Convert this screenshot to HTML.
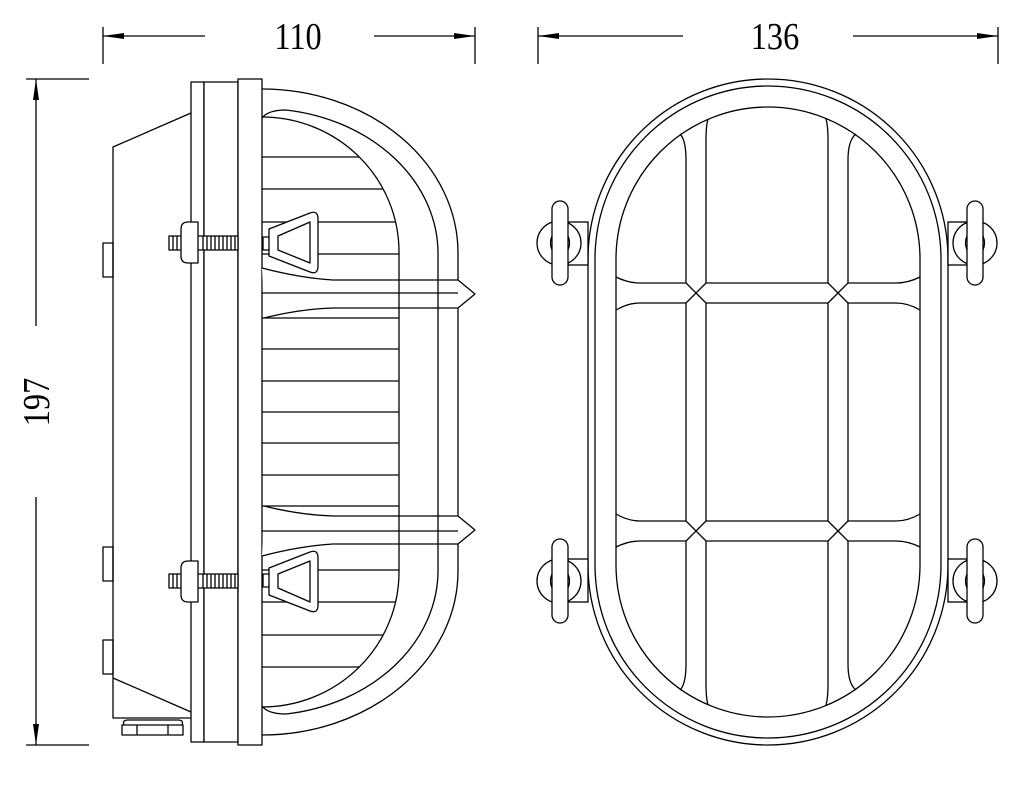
<!DOCTYPE html>
<html><head><meta charset="utf-8"><style>
html,body{margin:0;padding:0;background:#fff;}
svg{display:block;}
text{font-family:"Liberation Serif",serif;font-size:34px;fill:#000;}
</style></head><body>
<svg width="1032" height="785" viewBox="0 0 1032 785" xmlns="http://www.w3.org/2000/svg">
<g fill="none" stroke="#000" stroke-width="1.3">
<line x1="103" y1="27" x2="103" y2="64"/><line x1="475" y1="27" x2="475" y2="64"/>
<line x1="103" y1="36" x2="205" y2="36"/><line x1="374" y1="36" x2="475" y2="36"/>
<line x1="538" y1="27" x2="538" y2="64"/><line x1="998" y1="27" x2="998" y2="64"/>
<line x1="538" y1="36" x2="683" y2="36"/><line x1="853" y1="36" x2="998" y2="36"/>
<line x1="26" y1="79" x2="89" y2="79"/><line x1="26" y1="745" x2="89" y2="745"/>
<line x1="36" y1="79" x2="36" y2="326"/><line x1="36" y1="497" x2="36" y2="745"/>
</g>
<g fill="#000">
<polygon points="103,36 124,33 124,39"/><polygon points="475,36 454,33 454,39"/>
<polygon points="538,36 559,33 559,39"/><polygon points="998,36 977,33 977,39"/>
<polygon points="36,79 33,100 39,100"/><polygon points="36,745 33,724 39,724"/>
</g>
<text transform="translate(298,49) scale(0.95,1.12)" text-anchor="middle">110</text>
<text transform="translate(775,49) scale(0.95,1.12)" text-anchor="middle">136</text>
<text transform="translate(49,402) rotate(-90) scale(0.95,1.12)" text-anchor="middle">197</text>

<g fill="none" stroke="#000" stroke-width="1.3" stroke-linejoin="round">
<path d="M191,113 L113,147 L113,718 L191,718 M113,678 L191,712"/>
<rect x="103" y="243" width="10" height="34"/>
<rect x="103" y="547" width="10" height="34"/>
<rect x="103" y="640" width="10" height="34"/>
<path d="M124,725 Q122,720 128,720 L178,720 Q184,720 182,725"/>
<rect x="122" y="725" width="61" height="10"/><line x1="137" y1="725" x2="137" y2="735"/><line x1="168" y1="725" x2="168" y2="735"/>
<rect x="191" y="82" width="13" height="660" fill="#fff"/>
<rect x="204" y="82" width="34" height="660" fill="#fff"/>
<rect x="238" y="79" width="24" height="666" fill="#fff"/>
<line x1="399" y1="252" x2="399" y2="572"/>
<line x1="438" y1="255" x2="438" y2="569"/>
<path d="M262,89 A196,164 0 0 1 458,253 L458,571 A196,164 0 0 1 262,735"/>
<g id="half">
<path d="M262,117 A137,135 0 0 1 399,252"/>
<path d="M262,118 Q268,110 286,110 A176,145 0 0 1 438,255"/>
<line x1="262" y1="157" x2="359" y2="157"/>
<line x1="262" y1="189" x2="383" y2="189"/>
<line x1="262" y1="222" x2="396" y2="222"/>
<line x1="262" y1="254" x2="399" y2="254"/>
<line x1="262" y1="318" x2="399" y2="318"/>
<line x1="262" y1="349" x2="399" y2="349"/>
<line x1="262" y1="381" x2="399" y2="381"/>
<path d="M262,268 Q300,278 333,280 L458,280 L475,294 L458,308 L333,308 Q300,309 264,318" fill="#fff"/>
<line x1="262" y1="293" x2="458" y2="293"/>
<line x1="399" y1="280" x2="399" y2="308"/><line x1="438" y1="280" x2="438" y2="308"/>
<rect x="169" y="236" width="69" height="14" fill="#fff"/>
<path d="M173,236v14M177,236v14M203,236v14M207,236v14M211,236v14M215,236v14M219,236v14M223,236v14M227,236v14M231,236v14M235,236v14"/>
<path d="M198,222 L188,222 Q181,222 181,229 L181,256 Q181,263 188,263 L198,263 Z" fill="#fff"/>
<rect x="263" y="237" width="15" height="13" fill="#fff"/>
<path d="M269,229 L310,213 Q318,210 318,219 L318,266 Q318,275 310,272 L269,256 Z" fill="#fff"/>
<path d="M278,236 L310,222 L310,263 L278,250 Z"/>
</g>
<use href="#half" transform="matrix(1,0,0,-1,0,824)"/>
<line x1="262" y1="412" x2="399" y2="412"/>
</g>

<g fill="none" stroke="#000" stroke-width="1.3">
<path d="M588,259 A180,180 0 0 1 948,259 L948,565 A180,180 0 0 1 588,565 Z"/>
<path d="M595,259 A173,173 0 0 1 941,259 L941,565 A173,173 0 0 1 595,565 Z"/>
<path d="M616,259 A152,152 0 0 1 920,259 L920,565 A152,152 0 0 1 616,565 Z"/>
<g id="rhalf">
<path d="M680,134 Q686,140 686,160 L686,283 L706,303"/>
<path d="M706,283 L706,140 Q706,126 708,119"/>
<path d="M856,134 Q848,140 848,160 L848,283 L828,303"/>
<path d="M826,119 Q828,126 828,140 L828,283 L848,303"/>
<path d="M686,303 L706,283 L828,283"/>
<path d="M616,277 Q628,283 640,283 L686,283"/>
<path d="M616,310 Q628,303 640,303 L686,303"/>
<path d="M920,277 Q908,283 896,283 L848,283"/>
<path d="M920,310 Q908,303 896,303 L848,303"/>
<line x1="706" y1="303" x2="828" y2="303"/>
<rect x="568" y="222" width="20" height="43" fill="#fff"/>
<circle cx="559" cy="243" r="22" fill="#fff"/>
<rect x="552" y="201" width="16" height="84" rx="8" fill="#fff"/>
<path d="M552,236 Q549,243 552,250 M568,236 Q571,243 568,250"/>
<rect x="948" y="222" width="19" height="43" fill="#fff"/>
<circle cx="975" cy="243" r="22" fill="#fff"/>
<rect x="967" y="201" width="16" height="84" rx="8" fill="#fff"/>
<path d="M967,236 Q964,243 967,250 M983,236 Q986,243 983,250"/>
</g>
<use href="#rhalf" transform="matrix(1,0,0,-1,0,824)"/>
<line x1="686" y1="303" x2="686" y2="521"/><line x1="706" y1="303" x2="706" y2="521"/>
<line x1="828" y1="303" x2="828" y2="521"/><line x1="848" y1="303" x2="848" y2="521"/>
</g>
</svg>
</body></html>
